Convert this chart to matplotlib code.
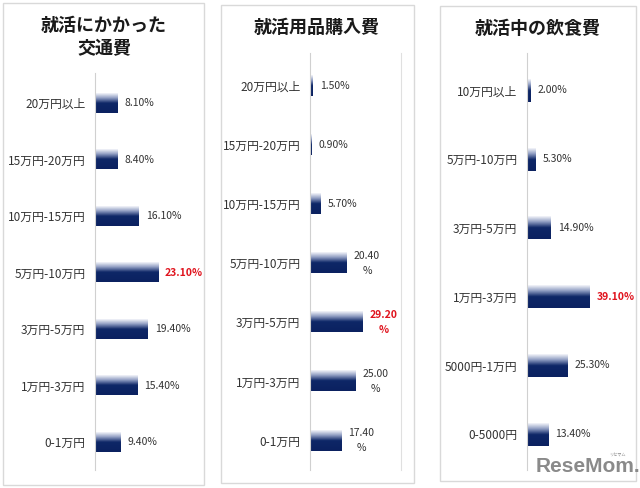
import matplotlib.pyplot as plt
import numpy as np
from matplotlib.colors import LinearSegmentedColormap
from matplotlib.patches import Rectangle

plt.rcParams['font.family'] = ['Noto Sans CJK JP', 'DejaVu Sans']

# データ
transport_cats = ['20万円以上', '15万円-20万円', '10万円-15万円', '5万円-10万円',
                  '3万円-5万円', '1万円-3万円', '0-1万円']
transport_vals = [8.1, 8.4, 16.1, 23.1, 19.4, 15.4, 9.4]

goods_cats = ['20万円以上', '15万円-20万円', '10万円-15万円', '5万円-10万円',
              '3万円-5万円', '1万円-3万円', '0-1万円']
goods_vals = [1.5, 0.9, 5.7, 20.4, 29.2, 25.0, 17.4]

food_cats = ['10万円以上', '5万円-10万円', '3万円-5万円', '1万円-3万円',
             '5000円-1万円', '0-5000円']
food_vals = [2.0, 5.3, 14.9, 39.1, 25.3, 13.4]

titles = ['就活にかかった\n交通費', '就活用品購入費', '就活中の飲食費']

W, H = 640, 488
fig = plt.figure(figsize=(W / 100, H / 100), dpi=100)
fig.patch.set_facecolor('white')

# グラデーション（上が白、下が紺）
cmap = LinearSegmentedColormap.from_list(
    'navy', [(0.0, '#f4f5fa'), (0.25, '#8c9ac0'), (0.5, '#0e2767'), (1.0, '#0b2160')])
grad = np.linspace(0, 1, 64).reshape(-1, 1)

# パネル設定 (px): 枠, 軸, x最大, 上下余白, 棒の太さ, タイトル位置, 折り返し, 右線
panels = [
    dict(cats=transport_cats, vals=transport_vals, box=(3, 3, 204, 485),
         ax=(95, 205, 73, 470), xmax=40.3, pads=(0.53, 0.49), bh=0.34,
         title=(104, 37), wrap=False, right=False),
    dict(cats=goods_cats, vals=goods_vals, box=(221, 5, 414, 483),
         ax=(310, 400.5, 53, 470), xmax=50.0, pads=(0.56, 0.5), bh=0.34,
         title=(317, 27), wrap=True, right=True),
    dict(cats=food_cats, vals=food_vals, box=(440, 6, 636, 481),
         ax=(527, 630, 53, 470), xmax=64.4, pads=(0.545, 0.52), bh=0.33,
         title=(538, 28), wrap=False, right=False),
]

for p, title in zip(panels, titles):
    # 枠
    x0, y0, x1, y1 = p['box']
    fig.patches.append(Rectangle((x0 / W + 0.002, 1 - y1 / H - 0.003), (x1 - x0) / W, (y1 - y0) / H,
                                 transform=fig.transFigure, facecolor='#efefef',
                                 edgecolor='none', zorder=-2))
    fig.patches.append(Rectangle((x0 / W, 1 - y1 / H), (x1 - x0) / W, (y1 - y0) / H,
                                 transform=fig.transFigure, facecolor='white',
                                 edgecolor='#d9d9d9', linewidth=1, zorder=-1))

    l, r, t, b = p['ax']
    ax = fig.add_axes([l / W, 1 - b / H, (r - l) / W, (b - t) / H])
    ax.patch.set_alpha(0)
    n = len(p['cats'])
    ys = np.arange(n)
    vmax = max(p['vals'])
    for y, v in zip(ys, p['vals']):
        h = p['bh']
        ax.imshow(grad, extent=(0, v, y + h / 2, y - h / 2), origin='upper',
                  aspect='auto', cmap=cmap, interpolation='bilinear', zorder=2)
        txt = f'{v:.2f}%'
        if p['wrap'] and v >= 10:
            txt = f'{v:.2f}\n%'
        is_max = v == vmax
        ax.annotate(txt, xy=(v, y), xytext=(5, 0), textcoords='offset points',
                    ha='left', va='center', multialignment='center',
                    fontsize=7.5, linespacing=1.6,
                    color='#e0141e' if is_max else '#333333',
                    fontweight='bold' if is_max else 'normal')

    ax.set_xlim(0, p['xmax'])
    ax.set_ylim(n - 1 + p['pads'][1], -p['pads'][0])
    ax.set_yticks(ys)
    ax.set_yticklabels(p['cats'], fontsize=8.5, color='#333333')
    ax.set_xticks([])
    ax.tick_params(axis='y', length=0, pad=7)
    for s in ['top', 'bottom', 'right']:
        ax.spines[s].set_visible(False)
    ax.spines['left'].set_color('#d0d0d0')
    if p['right']:
        ax.spines['right'].set_visible(True)
        ax.spines['right'].set_color('#e0e0e0')

    fig.text(p['title'][0] / W, 1 - p['title'][1] / H, title, ha='center', va='center',
             fontsize=13, fontweight='bold', color='#1a1a1a', linespacing=1.3)

# ロゴ
fig.text(588 / W, 1 - 467 / H, 'ReseMom.', ha='center', va='center', fontsize=15,
         fontweight='bold', color='#8a8a8a', family=['Liberation Sans', 'DejaVu Sans'])
fig.text(617 / W, 1 - 455 / H, 'リセマム', ha='center', va='center', fontsize=3,
         color='#8a8a8a')

plt.savefig('out.png', dpi=100)
